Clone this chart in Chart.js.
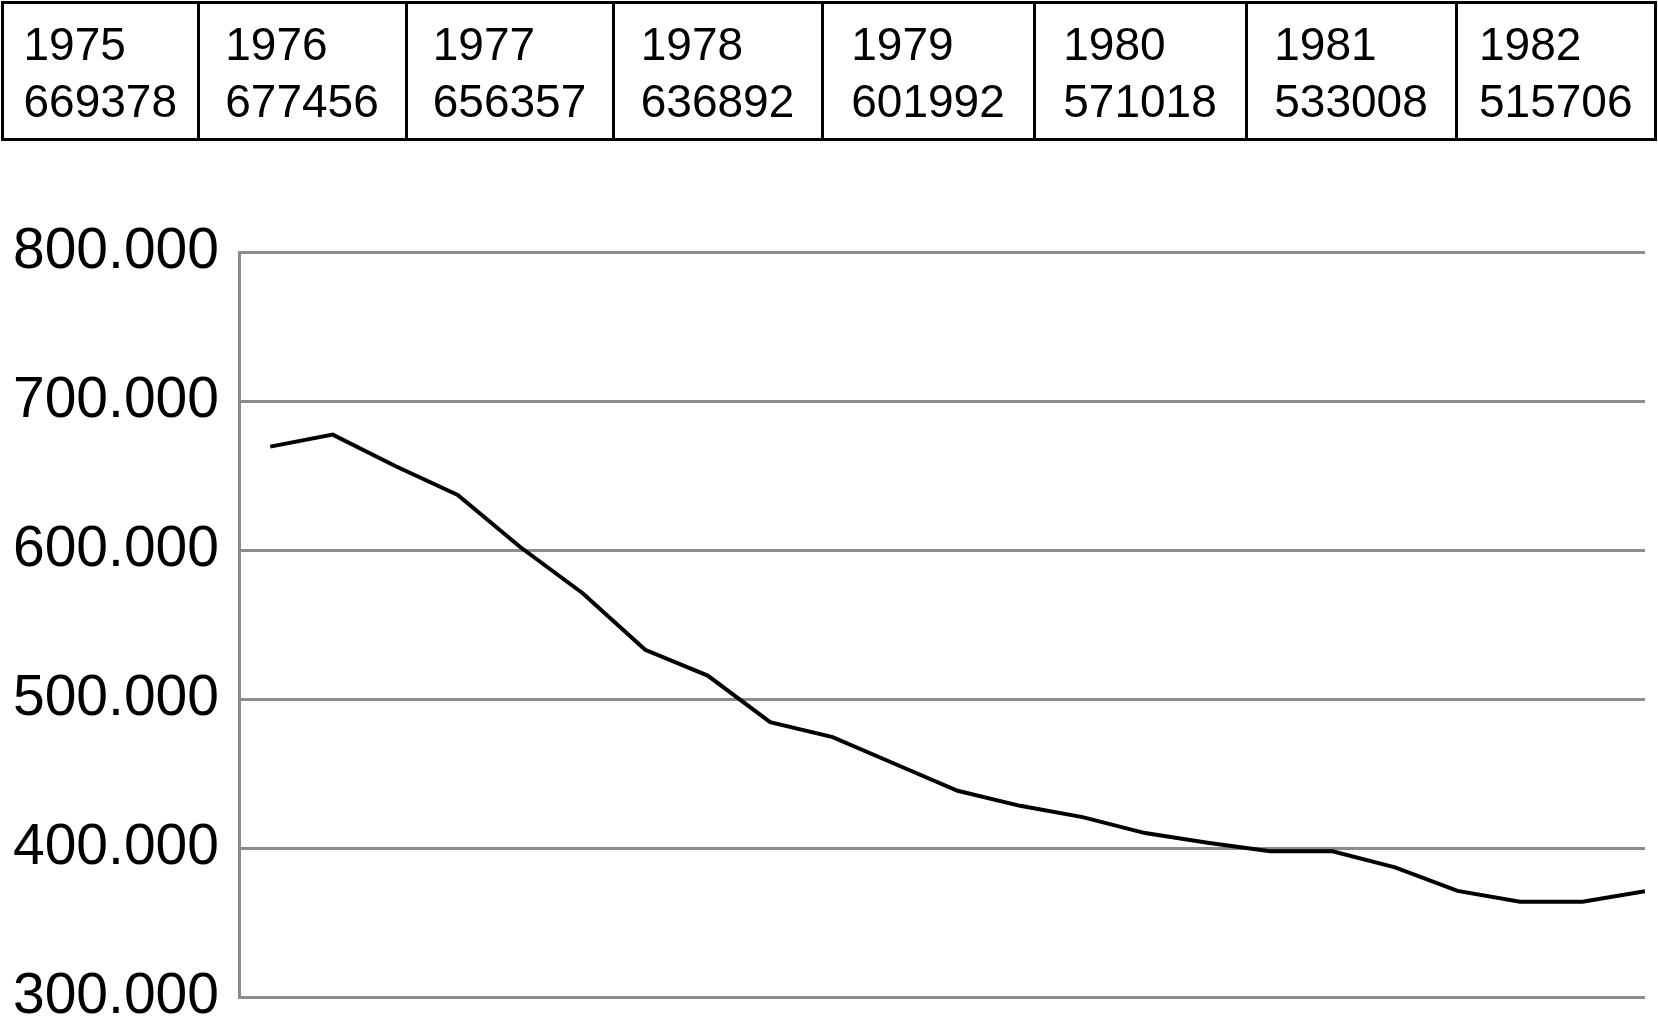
<!DOCTYPE html>
<html>
<head>
<meta charset="utf-8">
<script src="https://cdn.jsdelivr.net/npm/chart.js@4.4.1/dist/chart.umd.min.js"></script>
<style>
  html, body { margin: 0; padding: 0; background: #fff; }
  body { width: 1658px; height: 1026px; position: relative; overflow: hidden;
         font-family: "Liberation Sans", Arial, Helvetica, sans-serif; color: #000; }
  #wrap { position: absolute; left: 0; top: 0; width: 1658px; height: 1026px; }
  .cell { position: absolute; top: 1px; height: 140px; box-sizing: border-box;
          border: 3px solid #000; display: flex; align-items: center; justify-content: center; }
  .cell .txt { text-align: left; font-size: 46px; line-height: 57px; padding-top: 3px; white-space: nowrap; }
</style>
</head>
<body>
<div id="wrap"><canvas id="c" width="1658" height="1026"></canvas></div>
<div id="table"></div>
<script>
// ---- data ----
const years = [1975, 1976, 1977, 1978, 1979, 1980, 1981, 1982, 1983, 1984, 1985, 1986,
               1987, 1988, 1989, 1990, 1991, 1992, 1993, 1994, 1995, 1996, 1997];
const values = [669378, 677456, 656357, 636892, 601992, 571018, 533008, 515706,
                484500, 474400, 456400, 438400, 428300, 420700, 410000, 403500,
                397800, 397800, 387000, 371200, 364000, 364000, 371000];
const tableYears = years.slice(0, 8);
const tableValues = values.slice(0, 8);
const yTicks = [300000, 400000, 500000, 600000, 700000, 800000];

// ---- layout constants (not data) ----
const cellEdges = [2.5, 198, 406, 613, 822, 1034, 1246, 1456, 1655.5];

// ---- table ----
const tbl = document.getElementById('table');
tableYears.forEach((yr, i) => {
  const d = document.createElement('div');
  d.className = 'cell';
  d.style.left = (cellEdges[i] - 1.5) + 'px';
  d.style.width = (cellEdges[i + 1] - cellEdges[i] + 3) + 'px';
  const t = document.createElement('div');
  t.className = 'txt';
  t.innerHTML = yr + '<br>' + tableValues[i];
  d.appendChild(t);
  tbl.appendChild(d);
});

function fmt(v) { return String(v).replace(/\B(?=(\d{3})+(?!\d))/g, '.'); }

const gridColor = '#8c8c8c';
new Chart(document.getElementById('c'), {
  type: 'line',
  data: {
    datasets: [{
      label: 'Wert',
      data: years.map((y, i) => ({ x: y, y: values[i] })),
      borderColor: '#000',
      borderWidth: 4,
      pointRadius: 0,
      tension: 0,
      fill: false
    }]
  },
  options: {
    responsive: false,
    animation: false,
    devicePixelRatio: 1,
    layout: { padding: { left: 0, top: 252, right: 13, bottom: 29 } },
    plugins: { legend: { display: false }, tooltip: { enabled: false } },
    scales: {
      x: { type: 'linear', min: years[0] - 0.5, max: years[years.length - 1], display: false },
      y: {
        min: yTicks[0], max: yTicks[yTicks.length - 1],
        afterFit: (s) => { s.width = 239; s.paddingTop = 0; s.paddingBottom = 0; },
        afterBuildTicks: (s) => { s.ticks = yTicks.map(v => ({ value: v })); },
        grid: { color: gridColor, lineWidth: 3, drawTicks: false },
        border: { display: true, color: gridColor, width: 3 },
        ticks: {
          padding: 20,
          color: '#000',
          font: { family: '"Liberation Sans", Arial, Helvetica, sans-serif', size: 57, lineHeight: 1 },
          callback: (v) => fmt(v)
        }
      }
    }
  }
});
</script>
</body>
</html>
